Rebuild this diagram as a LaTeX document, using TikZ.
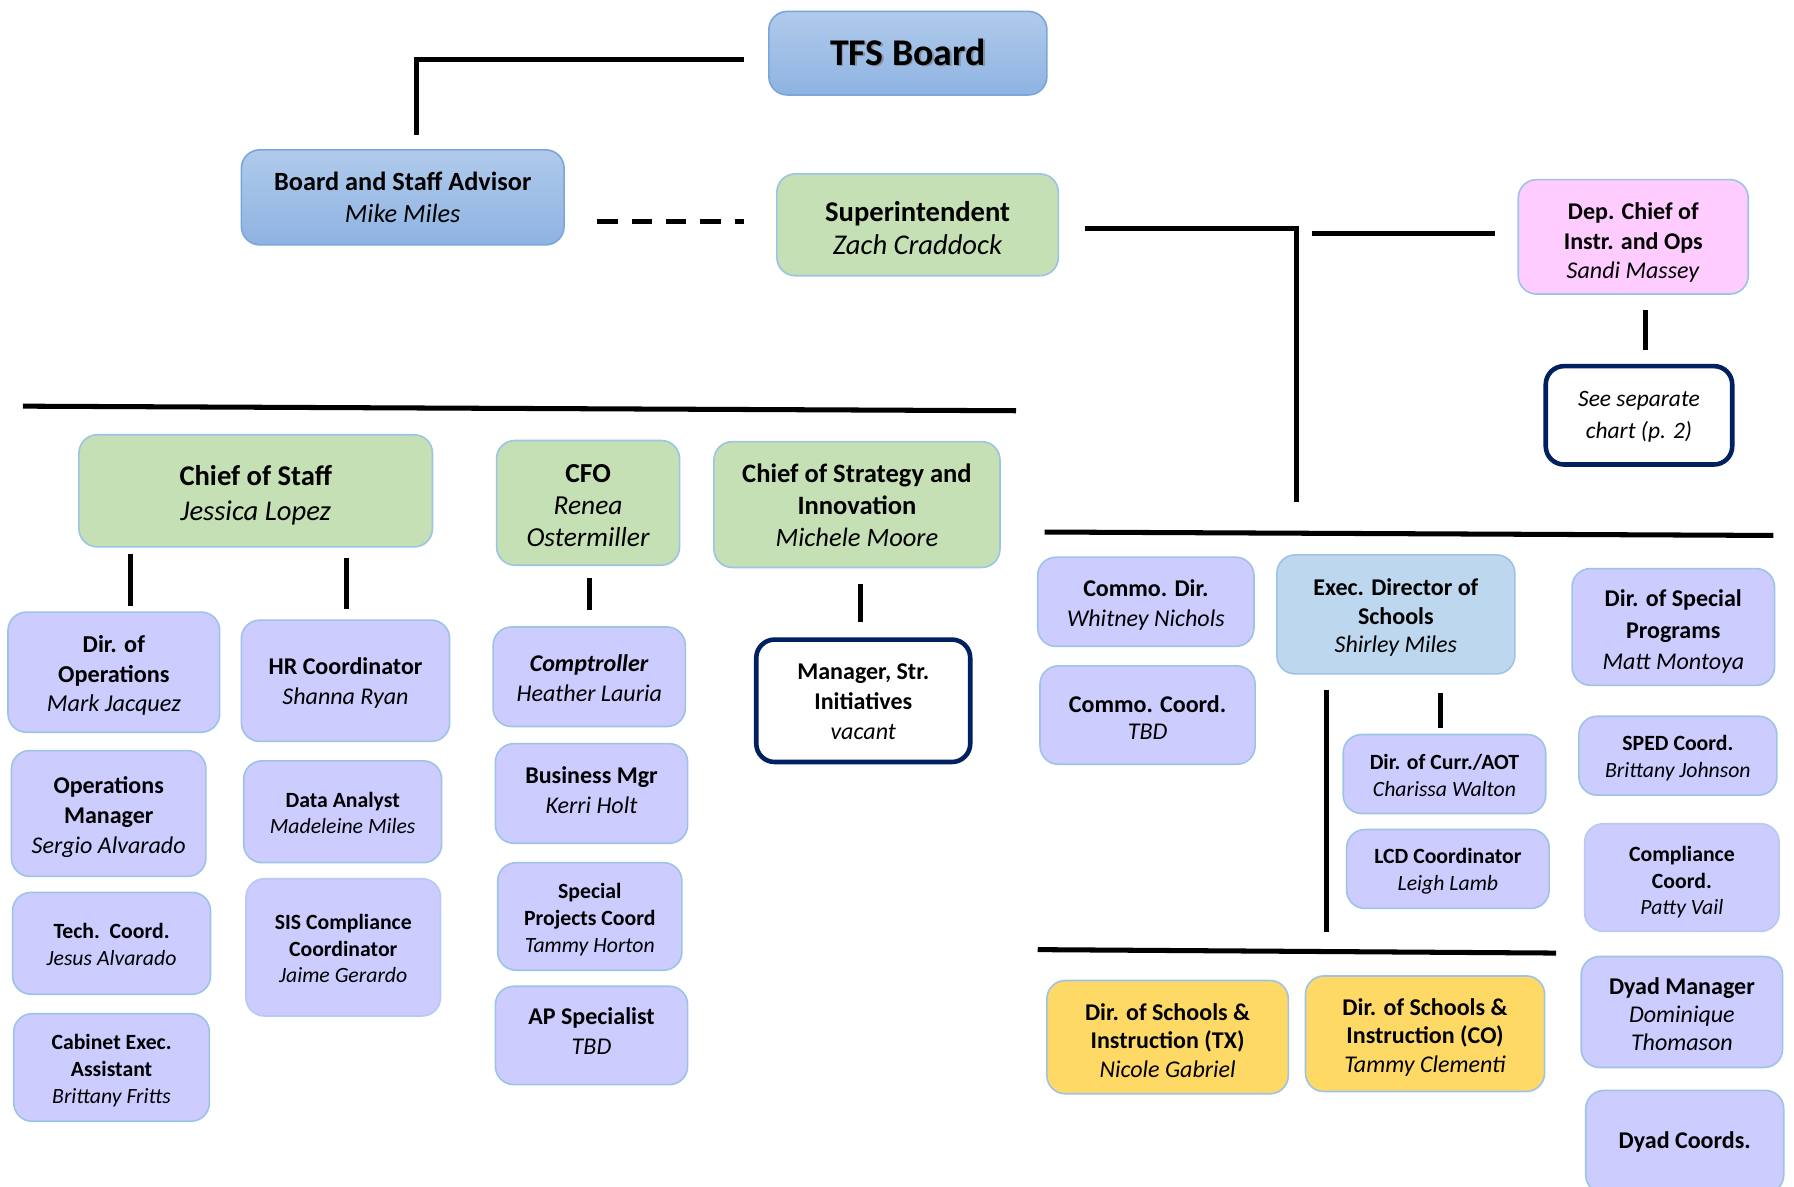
\documentclass[tikz,border=0pt]{standalone}
\usepackage{fontspec}
\setmainfont{Carlito}
\usetikzlibrary{calc}

\definecolor{blueTop}{HTML}{B0CAEB}
\definecolor{blueBot}{HTML}{8EB3E2}
\definecolor{blueEdge}{HTML}{7AA6DB}
\definecolor{edgeLight}{HTML}{9DC3E6}
\definecolor{sgreen}{HTML}{C5E0B4}
\definecolor{spink}{HTML}{FFCCFF}
\definecolor{slav}{HTML}{CCCCFF}
\definecolor{sblue}{HTML}{BDD7EE}
\definecolor{sgold}{HTML}{FFD966}
\definecolor{navy}{HTML}{002060}

% font size / baseline skip
\newcommand\fsz[2]{\fontsize{#1}{#2}\selectfont}
% [#1 text offset down] #2 box style, #3 font style, #4 name,
% #5 x1, #6 y1, #7 x2, #8 y2, #9 text
\newcommand\orgbox[9][3]{%
  \node[#2, minimum width={(#7-#5)*0.5pt}, minimum height={(#8-#6)*0.5pt}]
    (#4) at ({(#5+#7)/2},{(#6+#8)/2}) {};
  \node[#3, align=center, inner sep=0pt, text=black]
    (#4-txt) at ($(#4.center)+(0,#1)$) {#9};}

\begin{document}
\begin{tikzpicture}[x=0.5pt,y=-0.5pt,
  box/.style={draw=edgeLight, line width=0.7pt, rounded corners=8pt, inner sep=0pt},
  blueg/.style={box, draw=blueEdge, top color=blueTop, bottom color=blueBot},
  greenbox/.style={box, fill=sgreen},
  pinkbox/.style={box, fill=spink},
  lav/.style={box, fill=slav},
  lavsoft/.style={box, fill=slav, draw=slav!60!edgeLight},
  execb/.style={box, fill=sblue},
  goldbox/.style={box, fill=sgold},
  navybox/.style={box, draw=navy, line width=2pt, fill=white},
  fmed/.style={font=\fsz{10.5}{13}},
  fsml/.style={font=\fsz{9.5}{11.75}},
  conn/.style={line width=2.2pt, black},
]
\useasboundingbox (0,0) rectangle (1568,1037);
\clip (0,0) rectangle (1568,1037);

% ---- top level ----
\orgbox[-1]{blueg}{font=\fsz{16.5}{20}}{tfs}{672}{10}{915}{83}{\phantom{\textbf{TFS Board}}}
\node[font=\fsz{16.5}{20}, text=black!55, opacity=0.6] (tfsshadow) at ($(tfs-txt.center)+(1.5,1.5)$) {\textbf{TFS Board}};
\node[font=\fsz{16.5}{20}] (tfstext) at (tfs-txt.center) {\textbf{TFS Board}};

\orgbox[0]{blueg}{font=\fsz{11.5}{14}}{advisor}{211}{131}{493}{214}{\textbf{Board and Staff Advisor}\\\textit{Mike Miles}}
\orgbox{greenbox}{font=\fsz{12.5}{14.5}}{supt}{679}{152}{925}{241}{\textbf{Superintendent}\\\textit{Zach Craddock}}
\orgbox[5]{pinkbox}{font=\fsz{10.5}{13}}{depchief}{1327}{157}{1528}{257}{\textbf{Dep. Chief of}\\\textbf{Instr. and Ops}\\\textit{Sandi Massey}}
\orgbox[1]{navybox}{font=\fsz{10.25}{14}}{seesep}{1351}{320}{1514}{406}{\textit{See separate}\\\textit{chart (p. 2)}}

% ---- second level, left ----
\orgbox[4]{greenbox}{font=\fsz{12.5}{15.5}}{cos}{69}{380}{378}{478}{\textbf{Chief of Staff}\\\textit{Jessica Lopez}}
\orgbox[2]{greenbox}{font=\fsz{12}{14}}{cfo}{434}{385}{594}{494}{\textbf{CFO}\\\textit{Renea}\\\textit{Ostermiller}}
\orgbox[1]{greenbox}{font=\fsz{11.6}{14}}{csi}{624}{386}{874}{496}{\textbf{Chief of Strategy and}\\\textbf{Innovation}\\\textit{Michele Moore}}

\orgbox{lav}{font=\fsz{10.6}{13}}{dirops}{7}{535}{192}{640}{\textbf{Dir. of}\\\textbf{Operations}\\\textit{Mark Jacquez}}
\orgbox[2]{lav}{fmed}{hr}{211}{542}{393}{648}{\textbf{HR Coordinator}\\\textit{Shanna Ryan}}
\orgbox[1]{lav}{fmed}{compt}{431}{548}{599}{635}{\textbf{\textit{Comptroller}}\\\textit{Heather Lauria}}
\orgbox[1]{navybox}{fmed}{mgrsi}{661}{559}{848}{666}{\textbf{Manager, Str.}\\\textbf{Initiatives}\\\textit{vacant}}
\orgbox[3]{lav}{font=\fsz{10.5}{13}}{opsmgr}{10}{656}{180}{766}{\textbf{Operations}\\\textbf{Manager}\\\textit{Sergio Alvarado}}
\orgbox[1]{lav}{fsml}{data}{213}{665}{386}{754}{\textbf{Data Analyst}\\\textit{Madeleine Miles}}
\orgbox[-3]{lav}{fmed}{busmgr}{433}{650}{601}{737}{\textbf{Business Mgr}\\\textit{Kerri Holt}}
\orgbox[1]{lav}{fsml}{tech}{11}{780}{184}{869}{\textbf{Tech.\ \ Coord.}\\\textit{Jesus Alvarado}}
\orgbox[1]{lavsoft}{fsml}{sis}{215}{768}{385}{888}{\textbf{SIS Compliance}\\\textbf{Coordinator}\\\textit{Jaime Gerardo}}
\orgbox{lav}{fsml}{spc}{435}{754}{596}{848}{\textbf{Special}\\\textbf{Projects Coord}\\\textit{Tammy Horton}}
\orgbox{lav}{fsml}{cab}{12}{886}{183}{980}{\textbf{Cabinet Exec.}\\\textbf{Assistant}\\\textit{Brittany Fritts}}
\orgbox[-4]{lav}{fmed}{ap}{433}{862}{601}{948}{\textbf{AP Specialist}\\\textit{TBD}}

% ---- second level, right ----
\orgbox{lav}{fmed}{commodir}{907}{487}{1096}{565}{\textbf{Commo. Dir.}\\\textit{Whitney Nichols}}
\orgbox{execb}{font=\fsz{10.5}{12.5}}{eds}{1116}{485}{1324}{589}{\textbf{Exec. Director of}\\\textbf{Schools}\\\textit{Shirley Miles}}
\orgbox[4]{lav}{font=\fsz{10.5}{13.75}}{dsp}{1374}{497}{1551}{599}{\textbf{Dir. of Special}\\\textbf{Programs}\\\textit{Matt Montoya}}
\orgbox[2]{lav}{font=\fsz{10.5}{12}}{commocoord}{909}{582}{1097}{668}{\textbf{Commo. Coord.}\\\textit{TBD}}
\orgbox[1]{lav}{fsml}{dca}{1174}{642}{1351}{711}{\textbf{Dir. of Curr./AOT}\\\textit{Charissa Walton}}
\orgbox[2]{lav}{fsml}{sped}{1380}{626}{1553}{695}{\textbf{SPED Coord.}\\\textit{Brittany Johnson}}
\orgbox[2]{lav}{fsml}{lcd}{1177}{725}{1354}{794}{\textbf{LCD Coordinator}\\\textit{Leigh Lamb}}
\orgbox[4]{lavsoft}{fsml}{compl}{1385}{720}{1555}{814}{\textbf{Compliance}\\\textbf{Coord.}\\\textit{Patty Vail}}
\orgbox{goldbox}{font=\fsz{10.5}{12.5}}{dstx}{915}{857}{1126}{956}{\textbf{Dir. of Schools \&}\\\textbf{Instruction (TX)}\\\textit{Nicole Gabriel}}
\orgbox{goldbox}{font=\fsz{10.5}{12.5}}{dsco}{1141}{853}{1350}{954}{\textbf{Dir. of Schools \&}\\\textbf{Instruction (CO)}\\\textit{Tammy Clementi}}
\orgbox[2]{lav}{font=\fsz{10.5}{12.25}}{dyadm}{1382}{836}{1558}{933}{\textbf{Dyad Manager}\\\textit{Dominique}\\\textit{Thomason}}
\orgbox[0]{lav}{fmed}{dyadc}{1386}{953}{1559}{1043}{\textbf{Dyad Coords.}}

% ---- connector end points ----
\coordinate (tA) at (650,52);
\coordinate (tB) at (364,118);
\coordinate (dA) at (522,194);
\coordinate (dB) at (650,194);
\coordinate (sA) at (948,200);
\coordinate (sB) at (1133,439);
\coordinate (pA) at (1147,204);
\coordinate (pB) at (1307,204);
\coordinate (qA) at (1438,271);
\coordinate (qB) at (1438,306);
\coordinate (barLa) at (20,355);
\coordinate (barLb) at (888,359);
\coordinate (barRa) at (913,465);
\coordinate (barRb) at (1550,468);
\coordinate (barBa) at (907,830);
\coordinate (barBb) at (1360,833);
\coordinate (c1a) at (114,484);  \coordinate (c1b) at (114,530);
\coordinate (c2a) at (303,488);  \coordinate (c2b) at (303,532);
\coordinate (c3a) at (515,505);  \coordinate (c3b) at (515,533);
\coordinate (c4a) at (752,510);  \coordinate (c4b) at (752,544);
\coordinate (e1a) at (1159,603); \coordinate (e1b) at (1159,815);
\coordinate (e2a) at (1259,606); \coordinate (e2b) at (1259,636);

% ---- connectors ----
\draw[conn] (tA) -| (tB);
\draw[conn, dash pattern=on 9pt off 6pt] (dA) -- (dB);
\draw[conn] (sA) -| (sB);
\draw[conn] (pA) -- (pB);
\draw[conn] (qA) -- (qB);
\draw[conn] (barLa) -- (barLb);
\draw[conn] (barRa) -- (barRb);
\draw[conn] (barBa) -- (barBb);
\draw[conn] (c1a) -- (c1b);
\draw[conn] (c2a) -- (c2b);
\draw[conn] (c3a) -- (c3b);
\draw[conn] (c4a) -- (c4b);
\draw[conn] (e1a) -- (e1b);
\draw[conn] (e2a) -- (e2b);
\end{tikzpicture}
\end{document}
